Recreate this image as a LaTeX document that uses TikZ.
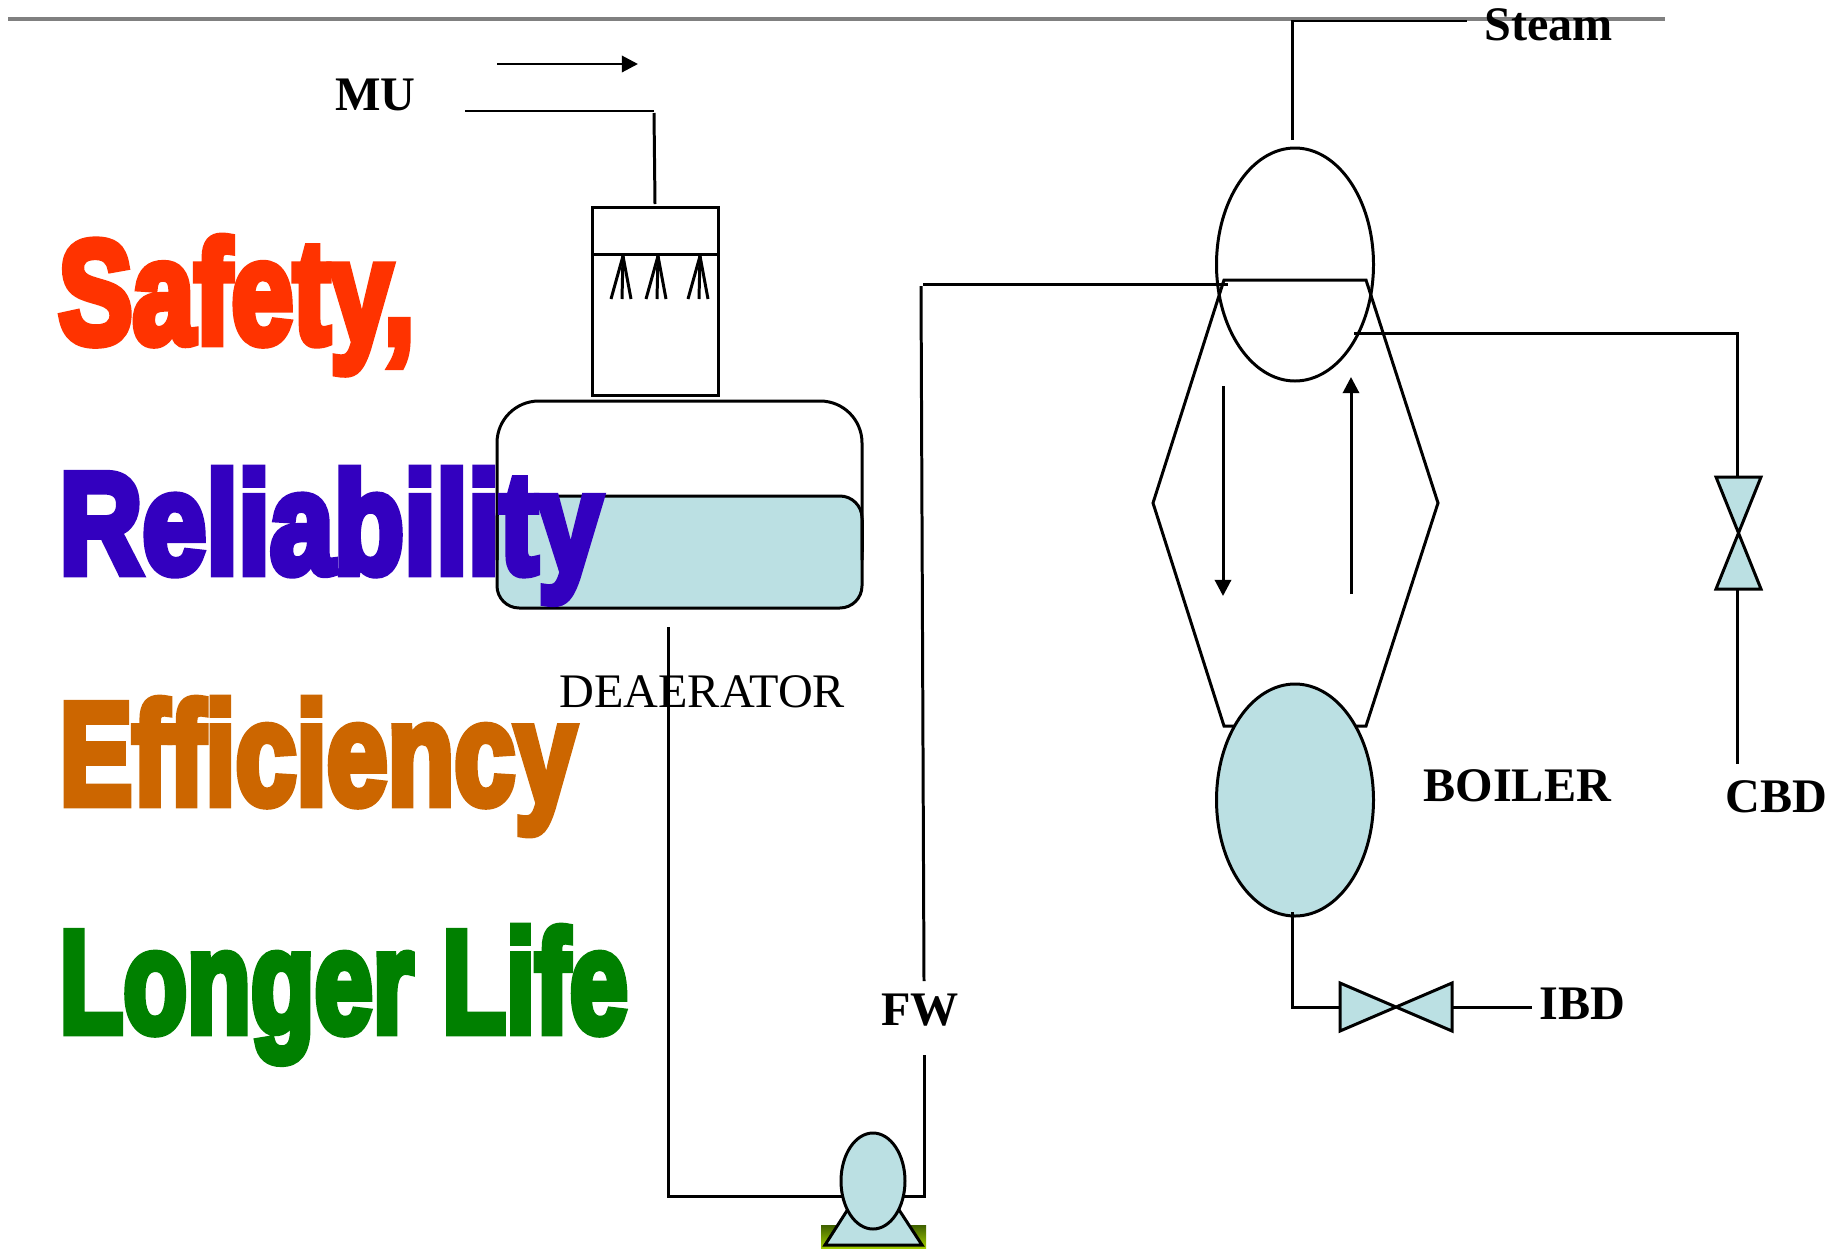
\documentclass[tikz,border=0pt]{standalone}
\usepackage{fontspec}
\usepackage{tikz}
\usetikzlibrary{arrows.meta}
\setmainfont{Liberation Serif}
\newfontfamily\impactfont[FakeBold=6]{Liberation Sans Bold}
\definecolor{tealfill}{HTML}{BBE0E3}
\definecolor{basetop}{HTML}{3F6000}
\definecolor{basebot}{HTML}{A0CC00}
\newcommand{\bigword}[3]{\resizebox{#1}{#2}{\impactfont #3}}
\tikzset{
    tag/.style={inner sep=0pt, anchor=base west, font=\fontsize{13.7}{15}\selectfont\bfseries},
    plaintag/.style={inner sep=0pt, anchor=base west, font=\fontsize{13.7}{15}\selectfont},
    bigtag/.style={inner sep=0pt, anchor=base west},
    flow/.style={-{Triangle[length=4.6pt,width=4.6pt]}}
}

\begin{document}
\begin{tikzpicture}[x=0.01cm, y=-0.01cm, line width=0.85pt]
    \useasboundingbox (0, 0) rectangle (1830, 1248);

    \coordinate (T1) at (8, 19);
    \coordinate (T2) at (1665, 19);
    \coordinate (S1) at (1292, 140);
    \coordinate (S2) at (1292, 21);
    \coordinate (S3) at (1467, 21);
    \coordinate (M1) at (497, 64);
    \coordinate (M2) at (638, 64);
    \coordinate (M3) at (465, 111);
    \coordinate (M4) at (654, 111);
    \coordinate (M5) at (654, 113);
    \coordinate (M6) at (655, 204);
    \coordinate (H1) at (1224, 280);
    \coordinate (H2) at (1366, 280);
    \coordinate (H3) at (1438, 503);
    \coordinate (H4) at (1366, 726);
    \coordinate (H5) at (1224, 726);
    \coordinate (H6) at (1153, 503);
    \coordinate (F1) at (668, 627);
    \coordinate (F2) at (668, 1196);
    \coordinate (F3) at (924, 1196);
    \coordinate (F4) at (924, 1055);
    \coordinate (F5) at (924, 981);
    \coordinate (F6) at (921, 286);
    \coordinate (F7) at (923, 284);
    \coordinate (F8) at (1228, 284);
    \coordinate (C1) at (1354, 333);
    \coordinate (C2) at (1739, 333);
    \coordinate (C3) at (1737, 335);
    \coordinate (C4) at (1737, 477);
    \coordinate (C5) at (1737, 589);
    \coordinate (C6) at (1737, 764);
    \coordinate (I1) at (1292, 912);
    \coordinate (I2) at (1292, 1007);
    \coordinate (I3) at (1340, 1007);
    \coordinate (I4) at (1453, 1007);
    \coordinate (I5) at (1532, 1007);

    \draw[gray, line width=1.15pt] (T1) -- (T2); % top rule
    \draw (S1) -- (S2) -- (S3); % steam
    \draw[flow] (M1) -- (M2);
    \draw (M3) -- (M4);
    \draw (M5) -- (M6);

    % spray box
    \draw (592, 207) rectangle (718, 395);
    \draw (592, 254) -- (718, 254);
    \foreach \apex in {623, 658, 700} {
        \draw (\apex, 256) -- (\apex-12, 299);
        \draw (\apex, 256) -- (\apex-1, 299);
        \draw (\apex, 256) -- (\apex+8, 299);
    }

    % deaerator
    \draw[fill=tealfill, rounded corners=6.3pt] (497, 608) -- (497, 496) -- (862, 496) -- (862, 608) -- cycle;
    \draw[rounded corners=11.9pt] (497, 560) -- (497, 401) -- (862, 401) -- (862, 560);
    \draw (862, 520) -- (862, 552);

    \draw (F1) -- (F2) -- (F3) -- (F4);
    \draw (F5) -- (F6);
    \draw (F7) -- (F8);

    % pump
    \shade[top color=basetop, bottom color=basebot] (821, 1225) rectangle (926, 1248);
    \draw[fill=tealfill] (825, 1245) -- (873, 1170) -- (922, 1245) -- cycle;
    \draw[fill=tealfill] (873, 1181) ellipse (32 and 48);

    % boiler
    \draw (H1) -- (H2) -- (H3) -- (H4) -- (H5) -- (H6) -- cycle;
    \draw (1295, 264.5) ellipse (78.5 and 116.5); % drum
    \draw[fill=tealfill] (1295, 800) ellipse (78.5 and 116); % mud drum
    \draw[flow] (1223, 386) -- (1223, 596);
    \draw[flow] (1351, 594) -- (1351, 377);

    \draw (C1) -- (C2);
    \draw (C3) -- (C4);
    \draw (C5) -- (C6);
    \draw[fill=tealfill] (1716, 477) -- (1761, 477) -- (1716, 589) -- (1761, 589) -- cycle; % cbd valve
    \draw (I1) -- (I2) -- (I3);
    \draw (I4) -- (I5);
    \draw[fill=tealfill] (1340, 983) -- (1452, 1031) -- (1452, 983) -- (1340, 1031) -- cycle; % ibd valve

    \node[plaintag] (deaerator) at (558, 707) {DEAERATOR};
    \node[tag] (steam) at (1483, 40) {Steam};
    \node[tag] (mu) at (334, 110) {MU};
    \node[tag] (fw) at (880, 1025) {FW};
    \node[tag] (boiler) at (1422, 801) {BOILER};
    \node[tag] (cbd) at (1724, 812) {CBD};
    \node[tag] (ibd) at (1538, 1019) {IBD};

    \node[bigtag, text={rgb,255:red,255;green,51;blue,0}] (safety) at (57, 343) {\bigword{3.56cm}{1.06cm}{Safety,}};
    \node[bigtag, text={rgb,255:red,51;green,0;blue,191}] (reliability) at (58, 573) {\bigword{5.42cm}{1.04cm}{Reliability}};
    \node[bigtag, text={rgb,255:red,204;green,102;blue,0}] (efficiency) at (58, 804) {\bigword{5.16cm}{1.05cm}{Efficiency}};
    \node[bigtag, text={rgb,255:red,0;green,128;blue,0}] (longer) at (58, 1032) {\bigword{5.68cm}{1.05cm}{Longer Life}};
\end{tikzpicture}
\end{document}
